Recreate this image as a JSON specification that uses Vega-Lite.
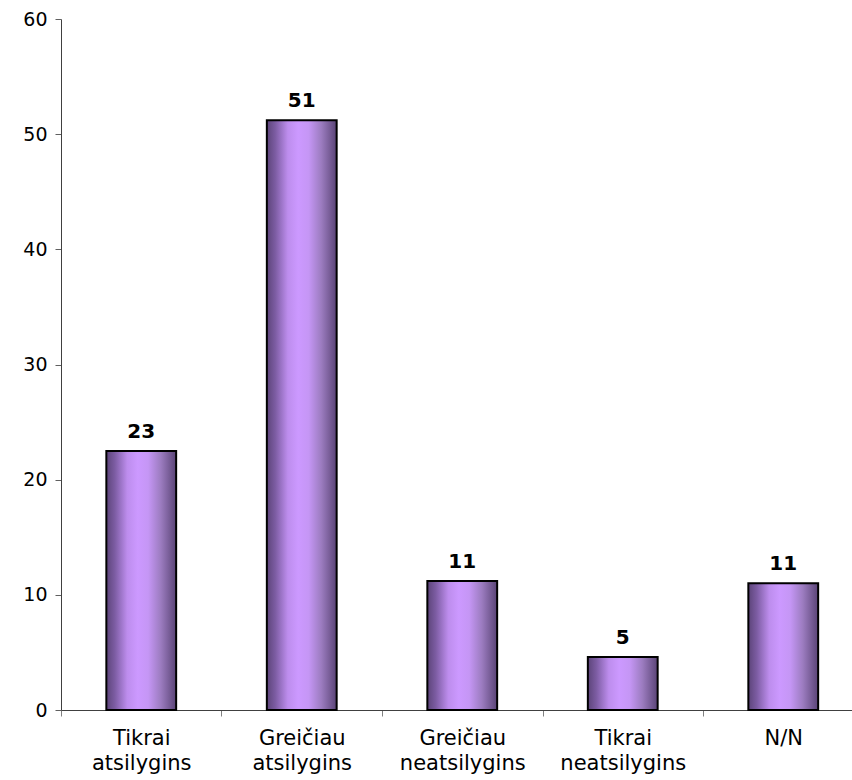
{
  "$schema": "https://vega.github.io/schema/vega-lite/v6.json",
  "autosize": "none",
  "width": 791,
  "height": 691,
  "padding": {"left": 61, "top": 19, "right": 0, "bottom": 70},
  "background": "white",
  "config": {"view": {"stroke": null}, "font": "DejaVu Sans"},
  "data": {"values": [
    {"cat": "Tikrai atsilygins", "value": 22.5, "label": "23"},
    {"cat": "Greičiau atsilygins", "value": 51.2, "label": "51"},
    {"cat": "Greičiau neatsilygins", "value": 11.2, "label": "11"},
    {"cat": "Tikrai neatsilygins", "value": 4.6, "label": "5"},
    {"cat": "N/N", "value": 11.0, "label": "11"}
  ]},
  "encoding": {
    "x": {"field": "cat", "type": "nominal", "sort": null,
      "scale": {"range": [0, 802.5], "paddingInner": 0.565, "paddingOuter": 0.2825},
      "axis": {"title": null, "labelAngle": 0, "labelExpr": "split(datum.value, ' ')",
        "labelFont": "DejaVu Sans", "labelFontSize": 21, "labelColor": "#000000",
        "labelLineHeight": 25, "labelPadding": 11, "labelBaseline": "top",
        "tickOffset": -80.25, "labelOffset": 80.25, "tickSize": 6, "tickColor": "#808080",
        "domainColor": "#404040", "labelLimit": 0}},
    "y": {"field": "value", "type": "quantitative",
      "scale": {"domain": [0, 60], "nice": false},
      "axis": {"title": null, "values": [0, 10, 20, 30, 40, 50, 60], "grid": false,
        "labelFont": "DejaVu Sans", "labelFontSize": 19, "labelColor": "#000000",
        "labelPadding": 8, "tickSize": 6, "tickColor": "#606060", "domainColor": "#404040"}}
  },
  "layer": [
    {"mark": {"type": "bar", "stroke": "#000000", "strokeWidth": 2,
      "color": {"gradient": "linear", "x1": 0, "y1": 0, "x2": 1, "y2": 0,
        "stops": [
          {"offset": 0, "color": "#5c4479"},
          {"offset": 0.12, "color": "#7c5ca2"},
          {"offset": 0.3, "color": "#bd8ded"},
          {"offset": 0.45, "color": "#cc99ff"},
          {"offset": 0.6, "color": "#c596f5"},
          {"offset": 0.78, "color": "#9c7cc0"},
          {"offset": 1, "color": "#5a4476"}
        ]}}},
    {"mark": {"type": "text", "baseline": "bottom", "dy": -9, "font": "DejaVu Sans",
      "fontSize": 20, "fontWeight": "bold", "color": "#000000"},
     "encoding": {"text": {"field": "label"}}}
  ]
}
